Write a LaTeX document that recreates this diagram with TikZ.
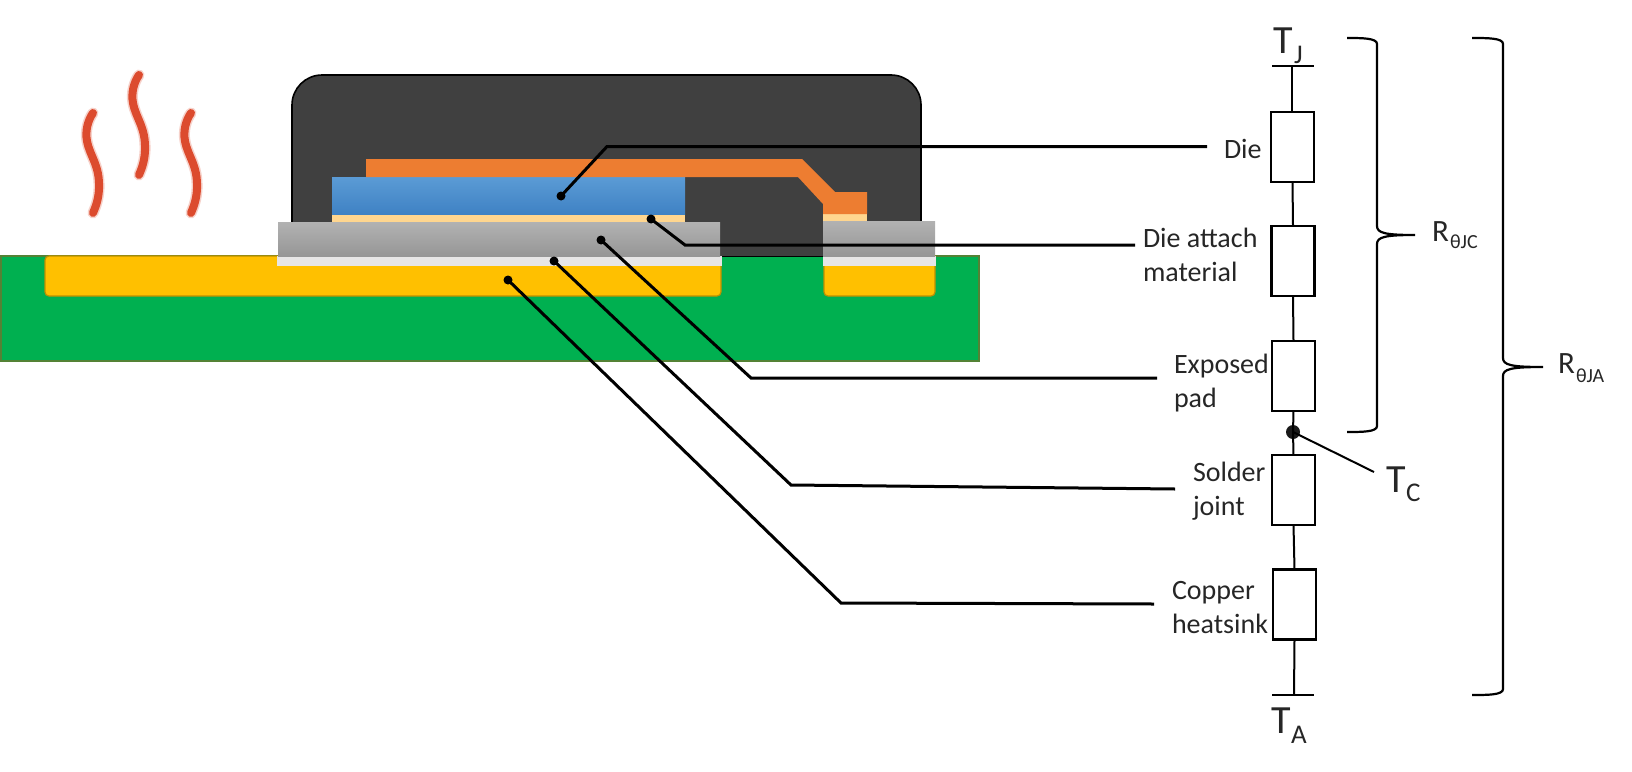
\documentclass[tikz,border=0pt]{standalone}
\usepackage{fontspec}
\setmainfont{Carlito}
\usetikzlibrary{calc}
\definecolor{pkgdark}{HTML}{404040}
\definecolor{clipcol}{HTML}{ED7D31}
\definecolor{diecol}{HTML}{5B9BD5}
\definecolor{diecolb}{HTML}{3F82C4}
\definecolor{attach}{HTML}{FFD68F}
\definecolor{padtop}{HTML}{B2B2B2}
\definecolor{padbot}{HTML}{969696}
\definecolor{soldercol}{HTML}{E7E6E6}
\definecolor{coppercol}{HTML}{FFC000}
\definecolor{copperedge}{HTML}{BF9000}
\definecolor{pcb}{HTML}{00B050}
\definecolor{pcbedge}{HTML}{548235}
\definecolor{heat}{HTML}{DC4B2E}
\tikzset{
  resbox/.style={draw=black,line width=2.2pt,fill=white,minimum width=43pt,minimum height=70pt,inner sep=0pt,outer sep=0pt},
  wire/.style={draw=black,line width=2pt},
  leader/.style={draw=black,line width=3pt},
  leaddot/.style={circle,fill=black,minimum size=9pt,inner sep=0pt,outer sep=0pt},
  lab/.style={anchor=base west,inner sep=0pt,outer sep=0pt,font=\fontsize{28}{34}\selectfont,align=left,text=black!85},
  bigT/.style={anchor=base west,inner sep=0pt,outer sep=0pt,font=\fontsize{40}{40}\selectfont,text=black!85},
  subT/.style={anchor=base west,inner sep=0pt,outer sep=0pt,font=\fontsize{27}{27}\selectfont,text=black!85},
  bigR/.style={anchor=base west,inner sep=0pt,outer sep=0pt,font=\fontsize{31}{31}\selectfont,text=black!85},
  subR/.style={anchor=base west,inner sep=0pt,outer sep=0pt,font=\fontsize{20}{20}\selectfont,text=black!85},
  bracel/.style={draw=black,line width=2.2pt},
  wave/.style={draw=heat,line width=8pt,line cap=round},
  waveglow/.style={draw=heat,opacity=.25,line width=11pt,line cap=round},
}
\newcommand{\heatwave}[1]{%
  \draw[waveglow,shift={#1}] (0,0) .. controls (-5,7) and (-8,18) .. (-6,28) .. controls (-3,44) and (7,52) .. (6,76) .. controls (5.5,86) and (3,93) .. (0,100);
  \draw[wave,shift={#1}] (0,0) .. controls (-5,7) and (-8,18) .. (-6,28) .. controls (-3,44) and (7,52) .. (6,76) .. controls (5.5,86) and (3,93) .. (0,100);}
\begin{document}
\begin{tikzpicture}[x=1pt,y=-1pt]
\useasboundingbox (0,0) rectangle (1632,771);
% heat
\heatwave{(93,113)}
\heatwave{(139,75)}
\heatwave{(191,113)}
% pcb
\draw[fill=pcb,draw=pcbedge,line width=1.5pt] (1,256) rectangle (979,361);
% copper
\draw[fill=coppercol,draw=copperedge,line width=1.2pt,rounded corners=4pt] (45,256) [sharp corners] -- (721,256) [rounded corners=4pt] -- (721,296) -- (45,296) -- cycle;
\draw[fill=coppercol,draw=copperedge,line width=1.2pt,rounded corners=4pt] (824,256) [sharp corners] -- (935,256) [rounded corners=4pt] -- (935,296) -- (824,296) -- cycle;
% package
\fill[pkgdark,rounded corners=30pt] (292,256) [sharp corners] -- (292,222) [rounded corners=30pt] -- (292,75) -- (921,75) [sharp corners] -- (921,222) -- (921,256) -- cycle;
\draw[black,line width=1.6pt,rounded corners=30pt] (292,222) -- (292,75) -- (921,75) -- (921,222);
\draw[black,line width=1pt] (720,256) -- (823,256);
% solder
\fill[soldercol] (277,256) rectangle (722,266);
\fill[soldercol] (823,256) rectangle (936,266);
% exposed pad
\fill[top color=padtop,bottom color=padbot] (278,222) rectangle (720,256);
\fill[top color=padtop,bottom color=padbot] (823,221) rectangle (935,256);
% attach
\fill[attach] (332,214) rectangle (685,222);
\fill[attach] (823,214) rectangle (867,221);
% die
\fill[top color=diecol,bottom color=diecolb] (332,177) rectangle (685,214);
% clip
\fill[clipcol] (366,159) -- (802,159) -- (835,192) -- (867,192) -- (867,214) -- (823,214) -- (823,204) -- (798,177) -- (366,177) -- cycle;
% labels
\node[lab] (ldie) at (1224,158) {Die};
\node[lab] (lattach) at (1143,281) {Die attach\\material};
\node[lab] (lpad) at (1174,407) {Exposed\\pad};
\node[lab] (lsolder) at (1193,515) {Solder\\joint};
\node[lab] (lcopper) at (1172,633) {Copper\\heatsink};
% leaders
\node[leaddot] (ddie) at (561,196) {};
\node[leaddot] (dattach) at (651,219) {};
\node[leaddot] (dpad) at (601,240) {};
\node[leaddot] (dsolder) at (554,261) {};
\node[leaddot] (dcopper) at (508,280) {};
\coordinate (edie) at (1207,146.5);
\coordinate (eattach) at (1135,245);
\coordinate (epad) at (1157,378);
\coordinate (esolder) at (1175,489);
\coordinate (ecopper) at (1154,604);
\draw[leader] (ddie.center) -- (607,146.5) -- (edie);
\draw[leader] (dattach.center) -- (685,245) -- (eattach);
\draw[leader] (dpad.center) -- (751,378) -- (epad);
\draw[leader] (dsolder.center) -- (791,485) -- (esolder);
\draw[leader] (dcopper.center) -- (841,603) -- (ecopper);
% circuit
\node[resbox] (r1) at (1292.5,147) {};
\node[resbox] (r2) at (1293,261) {};
\node[resbox] (r3) at (1293.5,376) {};
\node[resbox] (r4) at (1293.5,490) {};
\node[resbox] (r5) at (1294.5,604.5) {};
\coordinate (tjl) at (1272,66);
\coordinate (tjr) at (1314,66);
\coordinate (tjm) at (1292,66);
\coordinate (tal) at (1272,695);
\coordinate (tar) at (1314,695);
\coordinate (tam) at (1294,695);
\node[circle,fill=black!90,minimum size=14pt,inner sep=0pt] (tc) at (1293,432) {};
\coordinate (tce) at (1374,472);
\draw[wire] (tjl) -- (tjr);
\draw[wire] (tal) -- (tar);
\draw[wire] (tjm) -- (r1.north -| tjm);
\draw[wire] (r1.south) -- (r2.north);
\draw[wire] (r2.south) -- (r3.north);
\draw[wire] (r3.south) -- (tc.center);
\draw[wire] (tc.center) -- (r4.north);
\draw[wire] (r4.south) -- (r5.north);
\draw[wire] (r5.south) -- (tam);
\draw[wire] (tc.center) -- (tce);
% T labels
\node[bigT] (tj) at (1273,53) {T};
\node[subT] (tjs) at (1294,63) {J};
\node[bigT] (tcl) at (1386,492) {T};
\node[subT] (tcs) at (1406,501) {C};
\node[bigT] (ta) at (1271,733) {T};
\node[subT] (tas) at (1291,743) {A};
% braces
\coordinate (b1a) at (1347,38);
\coordinate (b1t) at (1415,235);
\coordinate (b1b) at (1347,432);
\coordinate (b2a) at (1472,38);
\coordinate (b2t) at (1543,367);
\coordinate (b2b) at (1472,695);
\draw[bracel] (b1a) .. controls (1362,38) and (1377,38) .. (1377,44) -- (1377,226) .. controls (1377,233) and (1385,235) .. (b1t) .. controls (1385,235) and (1377,237) .. (1377,244) -- (1377,426) .. controls (1377,432) and (1362,432) .. (b1b);
\draw[bracel] (b2a) .. controls (1488,38) and (1503,38) .. (1503,44) -- (1503,358) .. controls (1503,365) and (1511,367) .. (b2t) .. controls (1511,367) and (1503,369) .. (1503,376) -- (1503,689) .. controls (1503,695) and (1488,695) .. (b2b);
\node[bigR] (rjc) at (1432,241) {R};
\node[subR] (rjcs) at (1450,248) {θJC};
\node[bigR] (rja) at (1558,373) {R};
\node[subR] (rjas) at (1576,382) {θJA};
\end{tikzpicture}
\end{document}
